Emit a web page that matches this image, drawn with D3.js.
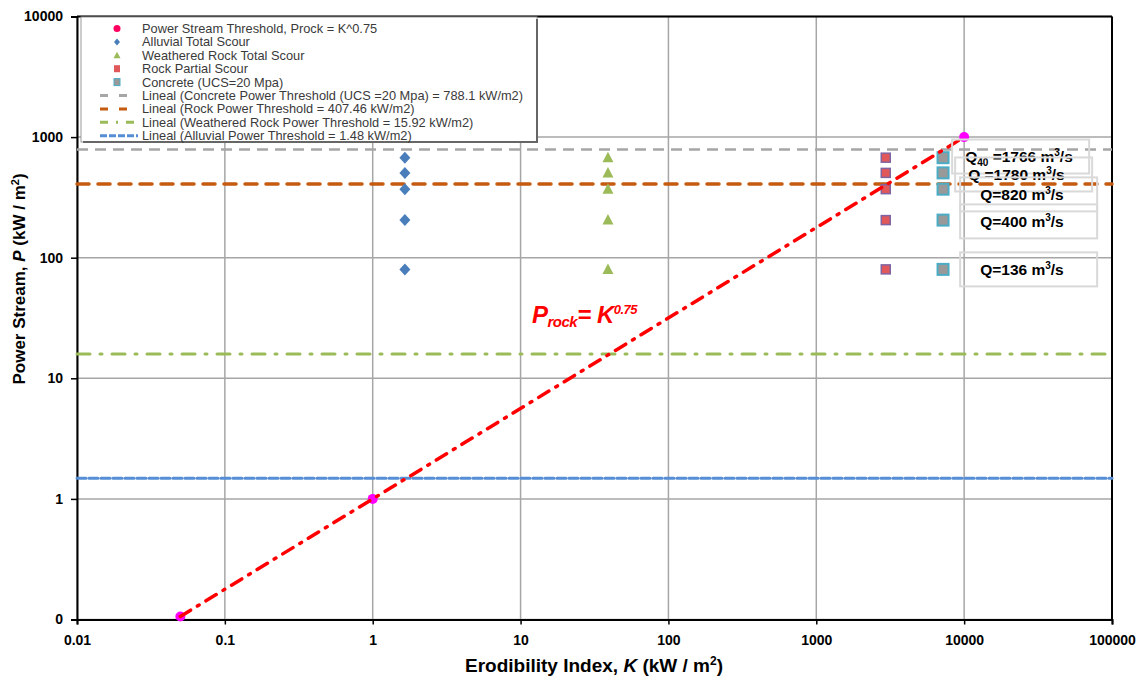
<!DOCTYPE html>
<html><head><meta charset="utf-8">
<script src="https://cdn.jsdelivr.net/npm/d3@7"></script>
<style>
body{margin:0;background:#fff;}
svg{display:block;font-family:"Liberation Sans",Arial,sans-serif;}
</style></head>
<body><svg id="c" width="1148" height="679"></svg>
<script>
// ---- data ----
const kTicks = [0.01, 0.1, 1, 10, 100, 1000, 10000, 100000];
const kTickLabels = ["0.01", "0.1", "1", "10", "100", "1000", "10000", "100000"];
const pTicks = [0.1, 1, 10, 100, 1000, 10000];
const pTickLabels = ["0", "1", "10", "100", "1000", "10000"];

const thresholdK = [0.05, 1, 10000];
const thresholdP = [0.106, 1, 1000];

const alluvialK = [1.65, 1.65, 1.65, 1.65, 1.65];
const alluvialP = [675, 505, 370, 205, 80];
const weatheredK = [39, 39, 39, 39, 39];
const weatheredP = [675, 505, 370, 205, 80];
const rockK = [2950, 2950, 2950, 2950, 2950];
const rockP = [675, 505, 370, 205, 80];
const concreteK = [7200, 7200, 7200, 7200, 7200];
const concreteP = [675, 505, 370, 205, 80];

const concreteThreshold = 788.1;
const rockThreshold = 407.46;
const weatheredThreshold = 15.92;
const alluvialThreshold = 1.48;

const flowValues = ["1766", "1780", "820", "400", "136"];
const flowSub = ["40", "", "", "", ""];
const flowLabelP = [690, 490, 335, 200, 80];

const legendLabels = [
  "Power Stream Threshold, Prock = K^0.75",
  "Alluvial Total Scour",
  "Weathered Rock Total Scour",
  "Rock Partial Scour",
  "Concrete (UCS=20 Mpa)",
  "Lineal (Concrete Power Threshold (UCS =20 Mpa) = 788.1 kW/m2)",
  "Lineal (Rock Power Threshold = 407.46 kW/m2)",
  "Lineal (Weathered Rock Power Threshold = 15.92 kW/m2)",
  "Lineal (Alluvial Power Threshold = 1.48 kW/m2)"
];

// ---- layout ----
const svg = d3.select("#c");
const L = 77, R = 1112, T = 16.5, B = 619.5;
const x = d3.scaleLog().domain([0.01, 100000]).range([L, R]);
const y = d3.scaleLog().domain([0.1, 10000]).range([B, T]);

const gridC = "#a6a6a6";
// gridlines
svg.append("g").selectAll("line").data(kTicks).join("line")
  .attr("x1", d => x(d)).attr("x2", d => x(d)).attr("y1", T).attr("y2", B)
  .attr("stroke", gridC).attr("stroke-width", 1.5);
svg.append("g").selectAll("line").data(pTicks).join("line")
  .attr("x1", L).attr("x2", R).attr("y1", d => y(d)).attr("y2", d => y(d))
  .attr("stroke", gridC).attr("stroke-width", 1.5);

// axes
const xAxis = d3.axisBottom(x).tickValues(kTicks).tickFormat((d, i) => kTickLabels[i]).tickSize(5).tickPadding(8);
const yAxis = d3.axisLeft(y).tickValues(pTicks).tickFormat((d, i) => pTickLabels[i]).tickSize(6).tickPadding(8);
const gx = svg.append("g").attr("transform", `translate(0,${B})`).call(xAxis);
const gy = svg.append("g").attr("transform", `translate(${L},0)`).call(yAxis);
[gx, gy].forEach(g => {
  g.select(".domain").attr("stroke", "#000").attr("stroke-width", 2);
  g.selectAll(".tick line").attr("stroke", "#000").attr("stroke-width", 1.5);
  g.selectAll(".tick text").attr("fill", "#000").attr("font-size", 14).attr("font-weight", "bold")
    .attr("font-family", "'Liberation Sans',Arial,sans-serif");
});
gx.selectAll(".tick text").attr("dy", "0.9em");
// top & right border
svg.append("line").attr("x1", L).attr("x2", R).attr("y1", T).attr("y2", T).attr("stroke", "#000").attr("stroke-width", 2);
svg.append("line").attr("x1", R).attr("x2", R).attr("y1", T).attr("y2", B).attr("stroke", "#000").attr("stroke-width", 2);

// threshold horizontal lines
const hStyles = [
  {v: concreteThreshold, c: "#a6a6a6", w: 2.5, d: "11,7"},
  {v: rockThreshold, c: "#c55a11", w: 3.5, d: "12,9", cap: "round"},
  {v: weatheredThreshold, c: "#9bbb59", w: 3, d: "13,10,2,10", cap: "round"},
  {v: alluvialThreshold, c: "#558ed5", w: 3, d: "9,3", cap: "round"}
];
svg.append("g").selectAll("line").data(hStyles).join("line")
  .attr("x1", L).attr("x2", R).attr("y1", d => y(d.v)).attr("y2", d => y(d.v))
  .attr("stroke", d => d.c).attr("stroke-width", d => d.w).attr("stroke-dasharray", d => d.d)
  .attr("stroke-linecap", d => d.cap || "butt");

// markers
const zip = (ks, ps) => ks.map((k, i) => ({k, p: ps[i]}));
svg.append("g").selectAll("path").data(zip(alluvialK, alluvialP)).join("path")
  .attr("d", "M0,-6L5.5,0L0,6L-5.5,0Z").attr("fill", "#4a7ebb")
  .attr("transform", d => `translate(${x(d.k)},${y(d.p)})`);
svg.append("g").selectAll("path").data(zip(weatheredK, weatheredP)).join("path")
  .attr("d", "M0,-6L5.5,4.5L-5.5,4.5Z").attr("fill", "#9bbb59")
  .attr("transform", d => `translate(${x(d.k)},${y(d.p)})`);
svg.append("g").selectAll("rect").data(zip(rockK, rockP)).join("rect")
  .attr("x", d => x(d.k) - 4.5).attr("y", d => y(d.p) - 4.5).attr("width", 9).attr("height", 9)
  .attr("fill", "#e0585a").attr("stroke", "#8064a2").attr("stroke-width", 1.5);
svg.append("g").selectAll("rect").data(zip(concreteK, concreteP)).join("rect")
  .attr("x", d => x(d.k) - 5.5).attr("y", d => y(d.p) - 5.5).attr("width", 11).attr("height", 11)
  .attr("fill", "#999999").attr("stroke", "#4bacc6").attr("stroke-width", 2);

// threshold points + line
const thr = zip(thresholdK, thresholdP);
svg.append("g").selectAll("circle").data(thr).join("circle")
  .attr("cx", d => x(d.k)).attr("cy", d => y(d.p)).attr("r", 5).attr("fill", "#ff00ff");
svg.append("path").datum(thr)
  .attr("d", d3.line().x(d => x(d.k)).y(d => y(d.p)))
  .attr("fill", "none").attr("stroke", "#ff0000").attr("stroke-width", 3.5)
  .attr("stroke-dasharray", "12,8,2,8").attr("stroke-linecap", "round");

// formula annotation
const ft = svg.append("text").attr("x", 532).attr("y", 323).attr("fill", "#ff0000")
  .attr("font-weight", "bold").attr("font-style", "italic").attr("letter-spacing", -0.5);
ft.append("tspan").attr("font-size", 24).text("P");
ft.append("tspan").attr("font-size", 15).attr("dy", 4).text("rock");
ft.append("tspan").attr("font-size", 24).attr("dy", -4).text("= K");
ft.append("tspan").attr("font-size", 13).attr("dy", -9).text("0.75");

// flow annotation boxes
const bx0 = x(10000);
const boxOff = [-12, -9, -4, -4, -4];
const txtOff = [1, 1, 8, 8, 8];
const ann = svg.append("g");
flowValues.forEach((v, i) => {
  const cy = y(flowLabelP[i]);
  ann.append("rect").attr("x", bx0 + boxOff[i]).attr("y", cy - 17).attr("width", 137).attr("height", 34)
    .attr("fill", "none").attr("stroke", "#d9d9d9").attr("stroke-width", 2);
  const t = ann.append("text").attr("x", bx0 + boxOff[i] + 12 + txtOff[i]).attr("y", cy + 5.5)
    .attr("font-size", 15.5).attr("font-weight", "bold").attr("fill", "#000");
  t.append("tspan").text("Q");
  if (flowSub[i]) {
    t.append("tspan").attr("font-size", 10).attr("dy", 4).text(flowSub[i]);
    t.append("tspan").attr("dy", -4).text(" =" + v + " m");
  } else {
    t.append("tspan").text((i === 1 ? " =" : "=") + v + " m");
  }
  t.append("tspan").attr("font-size", 10).attr("dy", -6).text("3");
  t.append("tspan").attr("dy", 6).text("/s");
});

// legend
const lg = svg.append("g");
lg.append("rect").attr("x", 81).attr("y", 17).attr("width", 456).attr("height", 125)
  .attr("fill", "#fff").attr("stroke", "#9a9a9a").attr("stroke-width", 1);
lg.append("path").attr("d", "M537,19V142H83").attr("fill", "none").attr("stroke", "#666").attr("stroke-width", 2);
const ly = i => 28.5 + i * 13.4;
const mx = 117;
lg.append("circle").attr("cx", mx).attr("cy", ly(0)).attr("r", 3.5).attr("fill", "#ff0060");
lg.append("path").attr("d", "M0,-3.5L3,0L0,3.5L-3,0Z").attr("fill", "#4a7ebb").attr("transform", `translate(${mx},${ly(1)})`);
lg.append("path").attr("d", "M0,-3.5L3.5,3L-3.5,3Z").attr("fill", "#9bbb59").attr("transform", `translate(${mx},${ly(2)})`);
lg.append("rect").attr("x", mx - 3).attr("y", ly(3) - 3.5).attr("width", 6).attr("height", 7).attr("fill", "#e0585a");
lg.append("rect").attr("x", mx - 3).attr("y", ly(4) - 3.5).attr("width", 6).attr("height", 7).attr("fill", "#999999").attr("stroke", "#4bacc6").attr("stroke-width", 1);
const legLines = [
  {c: "#a6a6a6", w: 3, d: "8,11"},
  {c: "#c55a11", w: 3, d: "8,11"},
  {c: "#9bbb59", w: 3, d: "8,8,2,8"},
  {c: "#558ed5", w: 3, d: "7,2"}
];
legLines.forEach((s, j) => {
  lg.append("line").attr("x1", 100).attr("x2", 138).attr("y1", ly(5 + j)).attr("y2", ly(5 + j))
    .attr("stroke", s.c).attr("stroke-width", s.w).attr("stroke-dasharray", s.d);
});
lg.selectAll("text.lt").data(legendLabels).join("text").attr("class", "lt")
  .attr("x", 142).attr("y", (d, i) => ly(i) + 4.5).attr("font-size", 12.8).attr("fill", "#3a3a3a").text(d => d);

// axis titles
const xt = svg.append("text").attr("x", 594).attr("y", 672).attr("text-anchor", "middle")
  .attr("font-size", 19).attr("font-weight", "bold").attr("fill", "#000");
xt.append("tspan").text("Erodibility Index, ");
xt.append("tspan").attr("font-style", "italic").text("K");
xt.append("tspan").text(" (kW / m");
xt.append("tspan").attr("font-size", 12).attr("dy", -7).text("2");
xt.append("tspan").attr("dy", 7).text(")");

const yt = svg.append("text").attr("transform", "translate(25,279) rotate(-90)").attr("text-anchor", "middle")
  .attr("font-size", 17).attr("font-weight", "bold").attr("fill", "#000");
yt.append("tspan").text("Power Stream, ");
yt.append("tspan").attr("font-style", "italic").text("P");
yt.append("tspan").text("  (kW / m");
yt.append("tspan").attr("font-size", 11).attr("dy", -6).text("2");
yt.append("tspan").attr("dy", 6).text(")");
</script></body></html>
